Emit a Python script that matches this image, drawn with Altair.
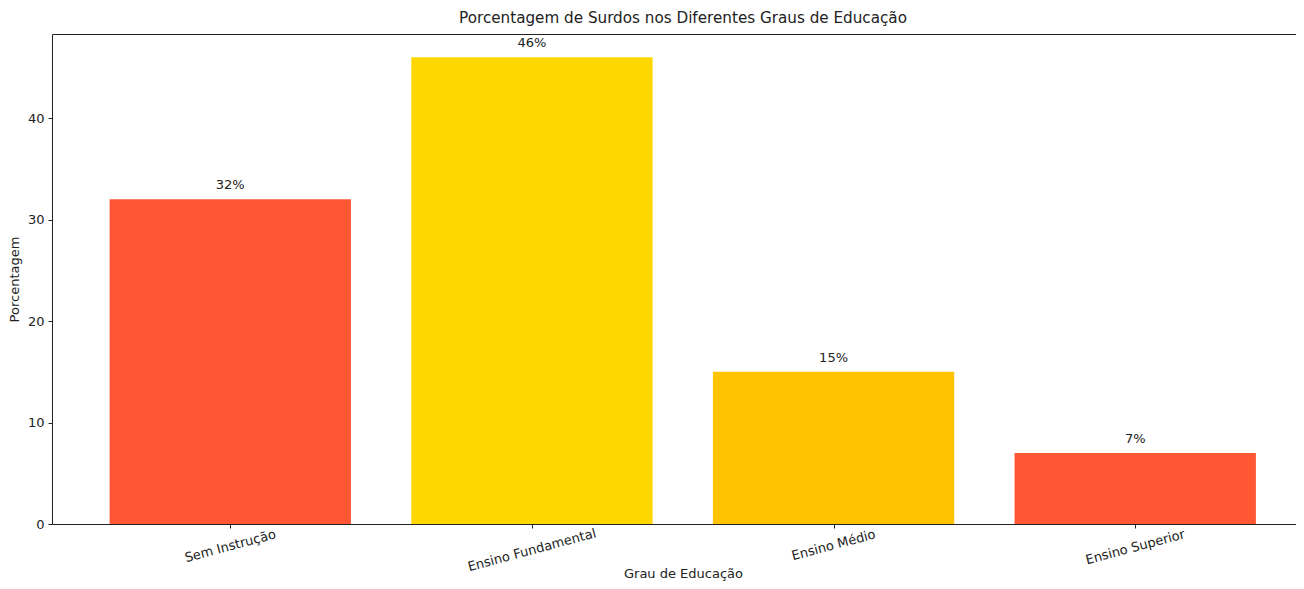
import altair as alt
import pandas as pd
import json

categories = ["Sem Instrução", "Ensino Fundamental", "Ensino Médio", "Ensino Superior"]
values = [32, 46, 15, 7]
colors = ["#FF5733", "#FFD700", "#FFC300", "#FF5733"]
y_ticks = [0, 10, 20, 30, 40]

df = pd.DataFrame({
    "Grau": categories,
    "Porcentagem": values,
    "idx": list(range(len(categories))),
    "cor": colors,
    "rotulo": [f"{v}%" for v in values],
})

FONT = "DejaVu Sans"
x_dom = [-0.591, 3.533]
y_dom = [0, 48.3]
label_expr = json.dumps(categories) + "[datum.value]"
xscale = alt.Scale(domain=x_dom, nice=False, zero=False, padding=0)
yscale = alt.Scale(domain=y_dom, nice=False, padding=0)

# extra padding so each rotated label's top sits just below the ticks (matplotlib-like)
label_pad = {
    "condition": [
        {"test": "datum.value == 0", "value": 12},
        {"test": "datum.value == 1", "value": 16},
        {"test": "datum.value == 2", "value": 11},
    ],
    "value": 13,
}

bars = alt.Chart(df).transform_calculate(
    x0="datum.idx - 0.4", x1="datum.idx + 0.4"
)

bar_layer = bars.mark_bar().encode(
    x=alt.X("x0:Q", scale=xscale,
            axis=alt.Axis(values=[0, 1, 2, 3], labelExpr=label_expr, labelAngle=345,
                          labelAlign="center", labelBaseline="top", labelFontSize=13,
                          labelFont=FONT, labelColor="#222", labelPadding=label_pad,
                          labelOffset=-2,
                          tickSize=4, tickColor="#222", domainColor="#222", grid=False,
                          title="Grau de Educação", titleFont=FONT, titleFontSize=13,
                          titleFontWeight="normal", titleColor="#222", titleX=631,
                          titleY=43, orient="bottom")),
    x2="x1:Q",
    y=alt.Y("Porcentagem:Q", scale=yscale,
            axis=alt.Axis(values=y_ticks, labelFontSize=13, labelFont=FONT, labelColor="#222",
                          tickSize=4, tickColor="#222", domainColor="#222", grid=False,
                          labelPadding=4, title="Porcentagem", titleFont=FONT,
                          titleFontSize=13, titleFontWeight="normal", titleColor="#222",
                          titlePadding=6)),
    y2=alt.datum(0),
    color=alt.Color("cor:N", scale=None, legend=None),
)

topspine = bars.mark_bar(opacity=0).encode(
    x=alt.X("x0:Q", scale=xscale,
            axis=alt.Axis(orient="top", labels=False, ticks=False, title=None, grid=False,
                          domainColor="#222")),
    x2="x1:Q",
    y=alt.Y("Porcentagem:Q", scale=yscale, axis=None),
    y2=alt.datum(0),
)

texts = bars.mark_text(baseline="bottom", dy=-7, fontSize=13, font=FONT, color="#222").encode(
    x=alt.X("idx:Q", scale=xscale, axis=None),
    y=alt.Y("Porcentagem:Q", scale=yscale, axis=None),
    text="rotulo:N",
)

chart = alt.layer(bar_layer, topspine, texts).resolve_axis(x="independent", y="independent").properties(
    width=1244,
    height=490,
    autosize=alt.AutoSizeParams(type="none"),
    padding={"left": 44, "top": 26, "right": 0, "bottom": 57},
    title=alt.Title("Porcentagem de Surdos nos Diferentes Graus de Educação",
                    font=FONT, fontSize=15.2, fontWeight="normal", color="#222",
                    anchor="middle", offset=8, dx=9),
).configure_view(stroke=None).configure(background="white")

chart.save("out.html", embed_options={"renderer": "svg", "actions": False})
